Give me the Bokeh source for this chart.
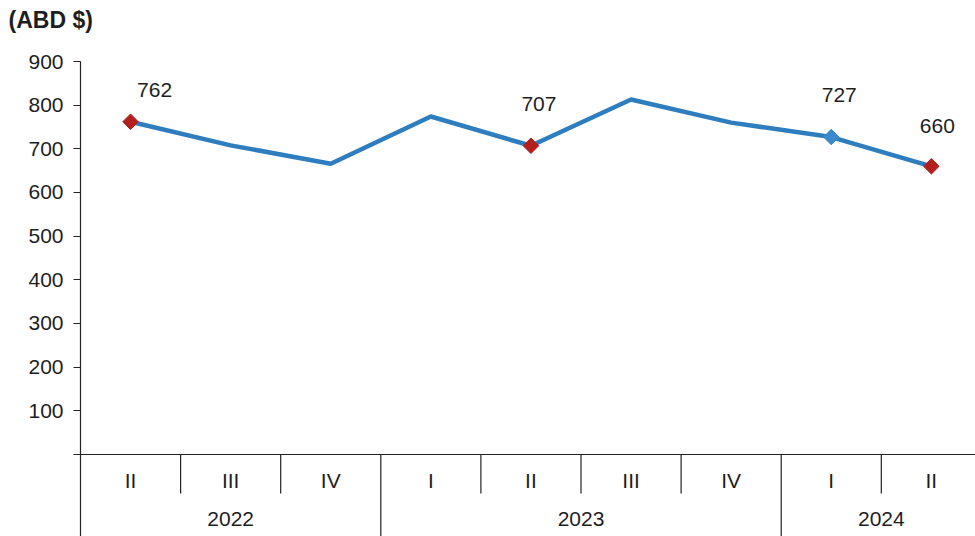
import math
from bokeh.plotting import figure
from bokeh.models import ColumnDataSource, Range1d, FixedTicker
from bokeh.core.properties import value
from bokeh.embed import file_html
from bokeh.resources import INLINE

# ---- data ----
years = ["2022", "2022", "2022", "2023", "2023", "2023", "2023", "2024", "2024"]
quarters = ["II", "III", "IV", "I", "II", "III", "IV", "I", "II"]
values = [762, 708, 666, 774, 707, 813, 760, 727, 660]
labeled_idx = [0, 4, 7, 8]
y_ticks = [0, 100, 200, 300, 400, 500, 600, 700, 800, 900]
title_text = "(ABD $)"

# ---- styles ----
FONT = "Liberation Sans"
FS = "21px"
TXT = "#1e1e1e"
LINE_COLOR = "#2E7DBF"
marker_colors = ["#B21F1F", "#B21F1F", "#3A89CC", "#B21F1F"]
label_dx = [24, 8, 8, 6]
label_dy = [-32, -42, -42, -40]

idx = list(range(len(values)))
Y_BOTTOM = -187.8

p = figure(width=975, height=536, output_backend="svg", toolbar_location=None,
           x_axis_type=None,
           x_range=Range1d(-0.5, 8.441), y_range=Range1d(Y_BOTTOM, 900),
           min_border_left=80, min_border_right=0, min_border_top=61, min_border_bottom=0)
p.outline_line_color = None
p.xgrid.visible = False
p.ygrid.visible = False
p.background_fill_color = "white"
p.border_fill_color = "white"

p.title.text = title_text + "\n "
p.title.align = "left"
p.title.vertical_align = "top"
p.title.offset = -72
p.title.standoff = 2
p.title.text_font = FONT
p.title.text_font_size = "23px"
p.title.text_font_style = "bold"
p.title.text_color = TXT

ax = p.yaxis[0]
ax.ticker = FixedTicker(ticks=y_ticks)
ax.major_label_overrides = {0: ""}
ax.major_tick_out = 7
ax.major_tick_in = 0
ax.minor_tick_line_color = None
ax.axis_line_color = "#222222"
ax.axis_line_width = 1.2
ax.major_tick_line_color = "#222222"
ax.major_label_text_font = FONT
ax.major_label_text_font_size = FS
ax.major_label_text_color = TXT
ax.major_label_standoff = 10

# x baseline
p.segment(x0=[-0.5], y0=[0], x1=[len(values) - 0.5], y1=[0], line_color="#222222", line_width=1.2)

# separators
sx, sy1 = [], []
for i in range(len(values) - 1):
    sx.append(i + 0.5)
    sy1.append(Y_BOTTOM if years[i] != years[i + 1] else -89.3)
p.segment(x0=sx, y0=[0] * len(sx), x1=sx, y1=sy1, line_color="#222222", line_width=1.2)

# quarter labels
p.text(x=idx, y=[-59.5] * len(idx), text=quarters, text_align="center", text_baseline="middle",
       text_font=value(FONT), text_font_size=FS, text_color=TXT)

# year labels
uyears = []
for y in years:
    if y not in uyears:
        uyears.append(y)
ycent = [sum(i for i in idx if years[i] == y) / years.count(y) for y in uyears]
p.text(x=ycent, y=[-146.6] * len(uyears), text=uyears, text_align="center", text_baseline="middle",
       text_font=value(FONT), text_font_size=FS, text_color=TXT)

# line
p.line(idx, values, line_color=LINE_COLOR, line_width=4.5)

# markers and labels
msrc = ColumnDataSource(dict(
    x=[idx[i] for i in labeled_idx],
    y=[values[i] for i in labeled_idx],
    c=marker_colors,
    t=[str(values[i]) for i in labeled_idx],
    dx=label_dx, dy=label_dy,
))
p.scatter("x", "y", source=msrc, marker="square", angle=math.pi / 4, size=11,
          fill_color="c", line_color="c")
p.text("x", "y", text="t", source=msrc, x_offset="dx", y_offset="dy",
       text_align="center", text_baseline="middle",
       text_font=value(FONT), text_font_size=FS, text_color=TXT)

open("out.html", "w").write(file_html(p, INLINE))
